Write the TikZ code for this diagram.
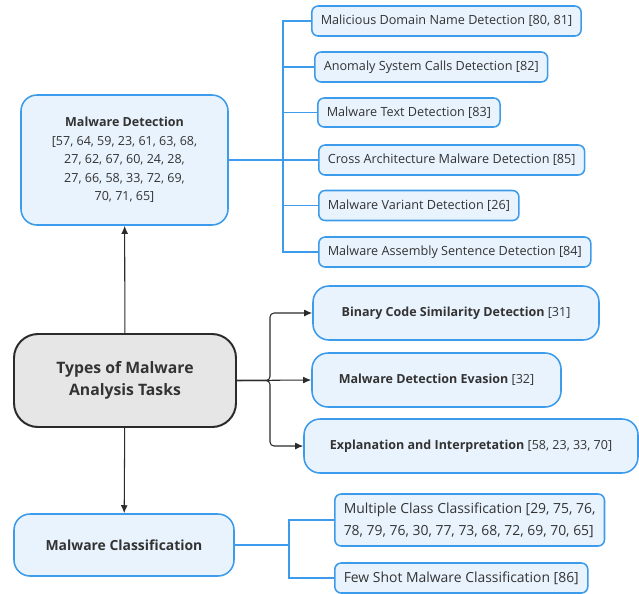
\documentclass[tikz,border=0pt]{standalone}
\usepackage{fontspec}
\setmainfont{Open Sans}
\usepackage{tikz}
\usetikzlibrary{arrows.meta}
\definecolor{TaskBlue}{HTML}{3C9BEA}
\definecolor{TaskPale}{HTML}{E9F3FD}
\definecolor{RootGrey}{HTML}{E6E6E6}
\definecolor{RootLine}{HTML}{2B2B2B}
\definecolor{TaskText}{HTML}{333333}

\begin{document}
\begin{tikzpicture}[x=0.25mm,y=-0.25mm,>={Latex[length=2mm,width=1.7mm]}]
  \tikzstyle{root}=[draw=RootLine,fill=RootGrey,line width=1.4pt,
    rounded corners=6mm,align=center,text=TaskText,
    font=\fontsize{11.2}{15.6}\selectfont\bfseries]
  \tikzstyle{task}=[draw=TaskBlue,fill=TaskPale,line width=1.1pt,
    rounded corners=4mm,align=center,text=TaskText,
    font=\fontsize{8.9}{13.2}\selectfont]
  \tikzstyle{leaf}=[draw=TaskBlue,fill=TaskPale,line width=1.1pt,
    rounded corners=1.6mm,anchor=west,align=left,text=TaskText,
    inner xsep=2.25mm,inner ysep=0pt,minimum height=7.5mm,
    font=\fontsize{9}{13.2}\selectfont]
  \tikzstyle{bigleaf}=[leaf,font=\fontsize{9.9}{15.6}\selectfont]
  \tikzstyle{bluewire}=[draw=TaskBlue,line width=1.3pt]
  \tikzstyle{blackwire}=[->,draw=RootLine,line width=0.75pt,rounded corners=1mm]
  \useasboundingbox (0,0) rectangle (639,593);
  % centre node and the two main tasks
  \node[root,minimum width=55.5mm,minimum height=23.25mm] (root) at (125,380.5)
    {Types of Malware\\Analysis Tasks};
  \node[task,minimum width=51.75mm,minimum height=32.5mm] (detect) at (124.5,160)
    {\textbf{Malware Detection}\\{}[57, 64, 59, 23, 61, 63, 68,\\27, 62, 67, 60, 24, 28,\\
    27, 66, 58, 33, 72, 69,\\70, 71, 65]};
  \node[task,minimum width=55mm,minimum height=15.5mm,
    font=\fontsize{9.9}{13.2}\selectfont] (classify) at (124,545)
    {\textbf{Malware Classification}};
  % detection subtasks
  \node[leaf] (mdn) at (311,21) {Malicious Domain Name Detection [80, 81]};
  \node[leaf] (asc) at (314,67) {Anomaly System Calls Detection [82]};
  \node[leaf,minimum height=7.25mm] (mtd) at (317,112.5) {Malware Text Detection [83]};
  \node[leaf] (cam) at (318,160) {Cross Architecture Malware Detection [85]};
  \node[leaf] (mvd) at (318,205.5) {Malware Variant Detection [26]};
  \node[leaf] (mas) at (318,252) {Malware Assembly Sentence Detection [84]};
  % other tasks
  \node[task,minimum width=71.5mm,minimum height=13.5mm] (bcs) at (456,313)
    {\textbf{Binary Code Similarity Detection} [31]};
  \node[task,minimum width=62.25mm,minimum height=13.5mm] (mde) at (436.5,380)
    {\textbf{Malware Detection Evasion} [32]};
  \node[task,minimum width=83.5mm,minimum height=13.5mm] (expl) at (471,446)
    {\textbf{Explanation and Interpretation} [58, 23, 33, 70]};
  % classification subtasks
  \node[bigleaf,minimum height=13mm] (mcc) at (334,520)
    {Multiple Class Classification [29, 75, 76,\\78, 79, 76, 30, 77, 73, 68, 72, 69, 70, 65]};
  \node[bigleaf] (fsm) at (334,578) {Few Shot Malware Classification [86]};
  \coordinate (dfork) at (283,160);
  \coordinate (cfork) at (289,545);
  \coordinate (rfork) at (270,380.5);
  \draw[bluewire] (detect.east) -- (cam.west);
  \draw[bluewire] (dfork) |- (mdn.west);
  \draw[bluewire] (dfork) |- (asc.west);
  \draw[bluewire] (dfork) |- (mtd.west);
  \draw[bluewire] (dfork) |- (mvd.west);
  \draw[bluewire] (dfork) |- (mas.west);
  \draw[bluewire] (classify.east) -- (cfork) |- (mcc.west);
  \draw[bluewire] (cfork) |- (fsm.west);
  \draw[blackwire] (root.east) -- (rfork) |- (bcs.west);
  \draw[blackwire] (root.east) -- (mde.west);
  \draw[blackwire] (root.east) -- (rfork) |- (expl.west);
  \draw[blackwire] (root) -- (detect);
  \draw[blackwire] (root) -- (classify);
\end{tikzpicture}
\end{document}
